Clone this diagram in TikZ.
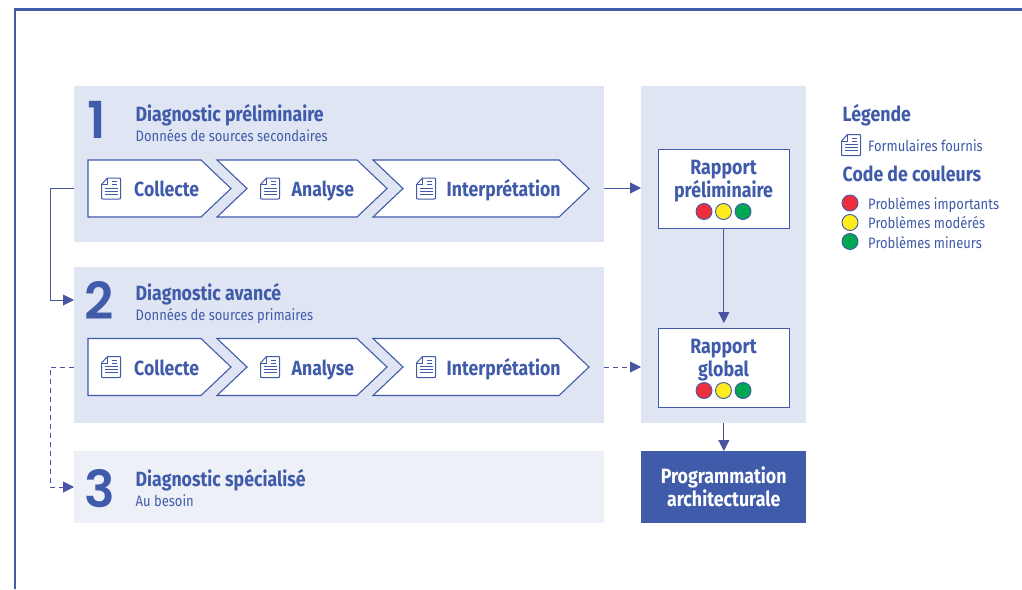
\documentclass[tikz,border=0pt]{standalone}
\usepackage{fontspec}
\setmainfont[FakeStretch=0.86]{Fira Sans}
\newfontfamily\numfont{Poppins SemiBold}
\usetikzlibrary{arrows.meta,calc}
\definecolor{blu}{HTML}{3F5BA9}
\definecolor{pan}{HTML}{DFE5F3}
\definecolor{panl}{HTML}{EEF0F8}
\definecolor{arr}{HTML}{4A55A2}
\definecolor{rd}{HTML}{EE2E3A}
\definecolor{yl}{HTML}{FFEC1F}
\definecolor{gr}{HTML}{00A651}
\tikzset{
 x=1pt,y=-1pt,
 panel/.style={fill=pan,draw=none,inner sep=0,anchor=north west},
 chev/.style={draw=blu,fill=white,line width=1.1pt,line join=miter},
 conn/.style={draw=arr,line width=1pt,-{Triangle[length=11pt,width=11pt]}},
 dconn/.style={conn,dash pattern=on 5pt off 4pt},
 ttl/.style={anchor=base west,inner sep=0,text=blu,font=\fontsize{20.6}{21}\selectfont\bfseries},
 sub/.style={anchor=base west,inner sep=0,text=blu,font=\fontsize{15.1}{16}\selectfont},
 stxt/.style={anchor=base west,inner sep=0,text=blu,font=\fontsize{20.5}{21}\selectfont\bfseries},
 num/.style={anchor=base west,inner sep=0,text=blu,font=\fontsize{51}{52}\numfont},
 rep/.style={draw=blu,fill=white,line width=1.2pt,inner sep=0,anchor=north west,minimum width=130.5pt,minimum height=79pt},
 rtxt/.style={inner sep=0,text=blu,align=center,font=\fontsize{20.7}{23}\selectfont\bfseries},
 dot/.style={circle,draw=blu,line width=.9pt,minimum size=16pt,inner sep=0},
 doc/.pic={
  \draw[blu,line width=1pt,line join=round,fill=none] (-9.5,-4) -- (-3.5,-10.5) -- (8,-10.5) .. controls (9.5,-10.5) and (9.5,-10.5) .. (9.5,-9) -- (9.5,9) .. controls (9.5,10.5) and (9.5,10.5) .. (8,10.5) -- (-8,10.5) .. controls (-9.5,10.5) and (-9.5,10.5) .. (-9.5,9) -- cycle;
  \draw[blu,line width=.9pt] (-9.5,-4) -- (-3.5,-4) -- (-3.5,-10.5);
  \draw[blu,line width=.9pt] (1,-7) -- (6,-7) (1,-4) -- (6,-4) (-6,-.5) -- (6.5,-.5) (-6,2.5) -- (6.5,2.5) (-6,5.5) -- (6.5,5.5);
 }
}
\begin{document}
\begin{tikzpicture}
\useasboundingbox (0,0) rectangle (1022,589);
\fill[white] (0,0) rectangle (1022,589);
\draw[blu,line width=2.4pt] (15,589) -- (15,9.5) -- (1022,9.5);
% panels
\node[panel,minimum width=530pt,minimum height=156pt] (p1) at (74,86) {};
\node[panel,minimum width=530pt,minimum height=156pt] (p2) at (74,267) {};
\node[panel,fill=panl,minimum width=530pt,minimum height=72pt] (p3) at (74,451) {};
\node[panel,minimum width=165pt,minimum height=337pt] (pr) at (641,86) {};
\node[panel,fill=blu,minimum width=165pt,minimum height=72pt,align=center,text=white,font=\fontsize{20.7}{23}\selectfont\bfseries] (prog) at (641,451) {Programmation\\architecturale};
% numbers and titles
\node[num] (n1) at (87,138) {1};
\node[num] (n2) at (84,319) {2};
\node[num] (n3) at (84,507) {3};
\node[ttl] (t1) at (135.5,121.5) {Diagnostic préliminaire};
\node[sub] (s1) at (135.5,141) {Données de sources secondaires};
\node[ttl] (t2) at (135.5,300.5) {Diagnostic avancé};
\node[sub] (s2) at (135.5,320) {Données de sources primaires};
\node[ttl] (t3) at (135.5,486.5) {Diagnostic spécialisé};
\node[sub] (s3) at (135.5,506) {Au besoin};
% chevrons
\foreach \yy/\r in {160/a,338.5/b}{
 \draw[chev] (88,\yy) -- (201,\yy) -- (231,\yy+28.5) -- (201,\yy+57) -- (88,\yy+57) -- cycle;
 \draw[chev] (217,\yy) -- (357,\yy) -- (387,\yy+28.5) -- (357,\yy+57) -- (217,\yy+57) -- (247,\yy+28.5) -- cycle;
 \draw[chev] (373,\yy) -- (559,\yy) -- (589,\yy+28.5) -- (559,\yy+57) -- (373,\yy+57) -- (403,\yy+28.5) -- cycle;
 \pic at (111,\yy+28.5) {doc};
 \pic at (270,\yy+28.5) {doc};
 \pic at (426,\yy+28.5) {doc};
 \node[stxt] (co\r) at (134,\yy+36.5) {Collecte};
 \node[stxt] (an\r) at (291.5,\yy+36.5) {Analyse};
 \node[stxt] (in\r) at (446.5,\yy+36.5) {Interprétation};
}
\coordinate (row1) at (604,188);
\coordinate (row2) at (604,367);
% reports
\node[rep] (r1) at (658,149) {};
\node[rep] (r2) at (658,328) {};
\node[rtxt] (r1t) at (723.5,181.5) {Rapport\\préliminaire};
\node[rtxt] (r2t) at (723.5,360.5) {Rapport\\global};
\foreach \r/\yy in {a/211.5,b/390.5}{
 \node[dot,fill=rd] (d1\r) at (704,\yy) {};
 \node[dot,fill=yl] (d2\r) at (723.5,\yy) {};
 \node[dot,fill=gr] (d3\r) at (743,\yy) {};
}
% connectors
\coordinate (b1) at (50,188);
\coordinate (b2) at (50,300);
\coordinate (b3) at (50,367);
\coordinate (b4) at (50,487);
\draw[conn] (p1.west |- row1) -- (b1) -- (b2) -- (p2.west |- b2);
\draw[dconn] (p2.west |- b3) -- (b3) -- (b4) -- (p3.west |- b4);
\draw[conn] (row1) -- (pr.west |- row1);
\draw[dconn] (row2) -- (pr.west |- row2);
\draw[conn] (r1.south) -- ($(r2.north)+(0,-5)$);
\draw[conn] (pr.south -| r2.south) -- (prog.north -| r2.south);
% legend
\node[ttl] (lg) at (842.5,121.5) {Légende};
\pic at (851,145) {doc};
\node[sub] (lf) at (868,151) {Formulaires fournis};
\node[ttl] (lc) at (842.5,181.5) {Code de couleurs};
\node[dot,fill=rd] (l1) at (850,203) {};
\node[dot,fill=yl] (l2) at (850,222.5) {};
\node[dot,fill=gr] (l3) at (850,241.5) {};
\node[sub] (lt1) at (868,209) {Problèmes importants};
\node[sub] (lt2) at (868,228) {Problèmes modérés};
\node[sub] (lt3) at (868,248) {Problèmes mineurs};
\end{tikzpicture}
\end{document}
